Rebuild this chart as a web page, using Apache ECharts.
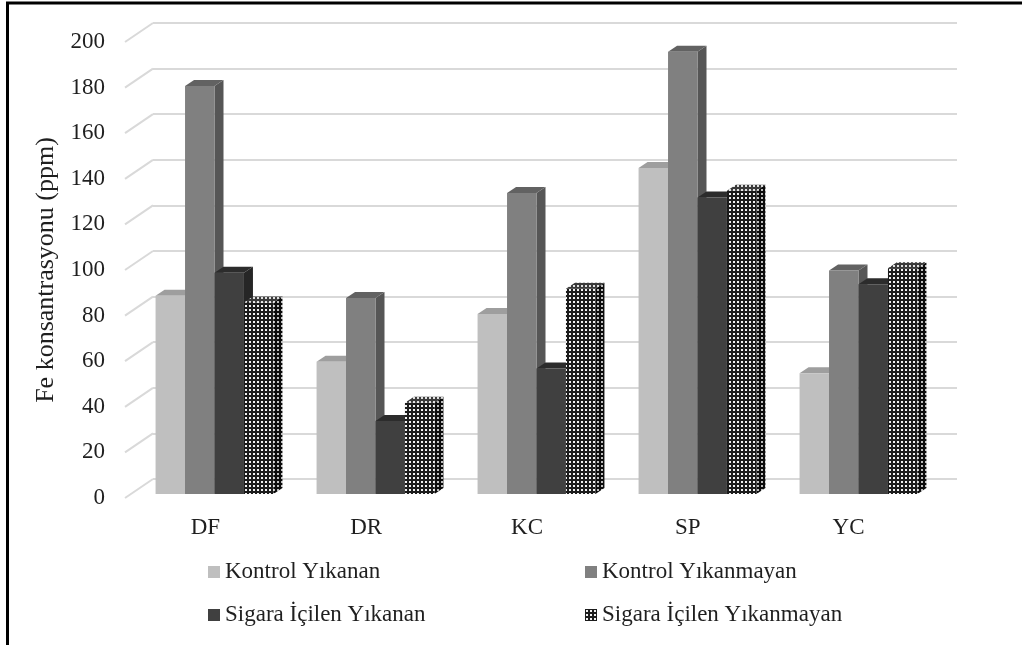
<!DOCTYPE html>
<html>
<head>
<meta charset="utf-8">
<script src="https://cdn.jsdelivr.net/npm/echarts@6/dist/echarts.min.js"></script>
<style>
  html, body { margin: 0; padding: 0; background: #ffffff; }
  #chart { width: 1022px; height: 645px; }
</style>
</head>
<body>
<div id="chart"></div>
<script>
// Fe concentration (ppm) per sample group
const categories = ['DF', 'DR', 'KC', 'SP', 'YC'];
const kontrolYikanan = [87, 58, 79, 143, 53];
const kontrolYikanmayan = [179, 86, 132, 194, 98];
const sigaraYikanan = [97, 32, 55, 130, 92];
const sigaraYikanmayan = [84, 40, 90, 133, 99];
const seriesNames = ['Kontrol Yıkanan', 'Kontrol Yıkanmayan', 'Sigara İçilen Yıkanan', 'Sigara İçilen Yıkanmayan'];
const yTicks = [0, 20, 40, 60, 80, 100, 120, 140, 160, 180, 200];
const yTitle = 'Fe konsantrasyonu (ppm)';

const FONT = '"Liberation Serif", "Times New Roman", serif';
const TEXT = '#1f1f1f';
const GRID_LINE = '#d9d9d9';

// oblique projection of the 3D box: depth of the whole floor and of a single bar
const WALL_DX = 28, WALL_DY = 19;
const BAR_DX = 9, BAR_DY = 6;
const BAR_FRAC = 0.183;

function dotPattern(bg, dot) {
  const c = document.createElement('canvas');
  c.width = 4; c.height = 4;
  const g = c.getContext('2d');
  g.fillStyle = bg; g.fillRect(0, 0, 4, 4);
  g.fillStyle = dot; g.fillRect(1, 1, 2, 2);
  return { image: c, repeat: 'repeat' };
}

const faces = [
  { front: '#bfbfbf', top: '#9e9e9e', side: '#979797' },
  { front: '#808080', top: '#626262', side: '#565656' },
  { front: '#404040', top: '#2c2c2c', side: '#262626' },
  { front: dotPattern('#1c1c1c', '#f2f2f2'), top: dotPattern('#3a3a3a', '#e0e0e0'), side: dotPattern('#0c0c0c', '#bdbdbd') }
];
const values = [kontrolYikanan, kontrolYikanmayan, sigaraYikanan, sigaraYikanmayan];

function barRenderer(j) {
  return function (params, api) {
    const idx = api.value(0);
    const top = api.coord([idx, api.value(1)]);
    const base = api.coord([idx, 0]);
    const band = api.size([1, 0])[0];
    const bw = band * BAR_FRAC;
    const l = base[0] + (j - 2) * bw;
    const r = l + bw;
    const t = top[1], b = base[1];
    const f = faces[j];
    return {
      type: 'group',
      children: [
        { type: 'polygon', shape: { points: [[r, t], [r + BAR_DX, t - BAR_DY], [r + BAR_DX, b - BAR_DY], [r, b]] }, style: { fill: f.side } },
        { type: 'polygon', shape: { points: [[l, t], [l + BAR_DX, t - BAR_DY], [r + BAR_DX, t - BAR_DY], [r, t]] }, style: { fill: f.top } },
        { type: 'rect', shape: { x: l, y: t, width: bw, height: b - t }, style: { fill: f.front } }
      ]
    };
  };
}

// side-wall gridlines running from the front edge back to the wall
function wallRenderer(params, api) {
  const p = api.coord([0, api.value(1)]);
  const x0 = params.coordSys.x;
  return {
    type: 'line',
    shape: { x1: x0, y1: p[1], x2: x0 + WALL_DX, y2: p[1] - WALL_DY },
    style: { stroke: GRID_LINE, lineWidth: 2 }
  };
}

const valueAxis = (idx, show) => ({
  type: 'value', gridIndex: idx, min: 0, max: 200, interval: 20,
  axisLine: { show: false }, axisTick: { show: false },
  axisLabel: show ? { show: true, margin: 20, fontFamily: FONT, fontSize: 23, color: TEXT } : { show: false },
  splitLine: { show: idx === 1, lineStyle: { color: GRID_LINE, width: 2 } }
});
const catAxis = (idx, show) => ({
  type: 'category', gridIndex: idx, data: categories,
  axisLine: { show: false }, axisTick: { show: false },
  axisLabel: show ? { show: true, margin: 18, fontFamily: FONT, fontSize: 23, color: TEXT } : { show: false },
  splitLine: { show: false }
});

const series = [
  {
    type: 'custom', xAxisIndex: 0, yAxisIndex: 0, silent: true,
    renderItem: wallRenderer,
    data: yTicks.map(v => [0, v]),
    z: 1
  }
];
values.forEach((vals, j) => {
  series.push({
    type: 'custom', name: seriesNames[j], xAxisIndex: 2, yAxisIndex: 2,
    renderItem: barRenderer(j),
    itemStyle: { color: faces[j].front },
    data: vals.map((v, i) => [i, v]),
    z: 3
  });
});

const legendText = { fontFamily: FONT, fontSize: 23, color: TEXT, lineHeight: 24 };
const option = {
  animation: false,
  grid: [
    { left: 125, top: 42, width: 804, height: 456, outerBoundsMode: 'none' },
    { left: 125 + WALL_DX, top: 42 - WALL_DY, width: 804, height: 456, outerBoundsMode: 'none' },
    { left: 134, top: 38, width: 805, height: 456, outerBoundsMode: 'none' }
  ],
  xAxis: [catAxis(0, true), catAxis(1, false), catAxis(2, false)],
  yAxis: [
    Object.assign(valueAxis(0, true), {
      name: yTitle, nameLocation: 'middle', nameGap: 61, nameRotate: 90,
      nameTextStyle: { fontFamily: FONT, fontSize: 26, color: TEXT }
    }),
    valueAxis(1, false),
    valueAxis(2, false)
  ],
  legend: [
    {
      left: 208, top: 560, padding: 0, orient: 'vertical', itemGap: 19, itemWidth: 12, itemHeight: 12,
      icon: 'rect', data: [seriesNames[0], seriesNames[2]], textStyle: legendText, selectedMode: false
    },
    {
      left: 585, top: 560, padding: 0, orient: 'vertical', itemGap: 19, itemWidth: 12, itemHeight: 12,
      icon: 'rect', data: [seriesNames[1], seriesNames[3]], textStyle: legendText, selectedMode: false
    }
  ],
  graphic: [
    { type: 'line', shape: { x1: 6, y1: 3, x2: 1022, y2: 3 }, style: { stroke: '#000', lineWidth: 3 } },
    { type: 'line', shape: { x1: 7.5, y1: 2, x2: 7.5, y2: 645 }, style: { stroke: '#000', lineWidth: 3 } }
  ],
  series: series
};

const chart = echarts.init(document.getElementById('chart'), null, { renderer: 'canvas' });
chart.setOption(option);
</script>
</body>
</html>
